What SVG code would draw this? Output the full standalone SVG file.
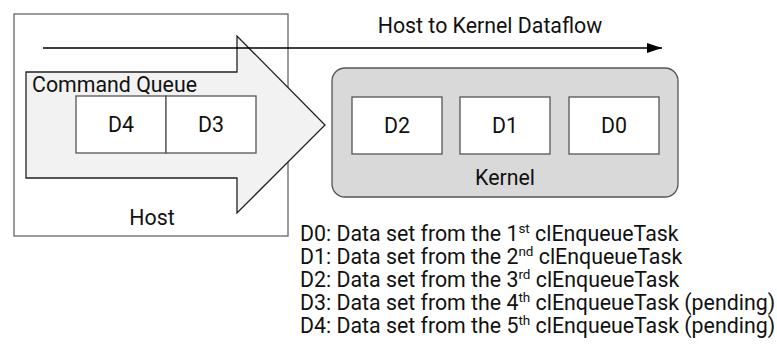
<svg xmlns="http://www.w3.org/2000/svg" width="777" height="346" viewBox="0 0 777 346">
<defs>
<style>
text{font-family:Roboto,"Liberation Sans",sans-serif;fill:#111;}
.t{font-size:21.33px;}
.c{text-anchor:middle;}
.box{fill:#fff;stroke:#555;stroke-width:1.3;}
.sup{font-size:13.5px;}
</style>
<marker id="ah" markerWidth="15" markerHeight="10" refX="15" refY="5" orient="auto" markerUnits="userSpaceOnUse">
<path d="M0,0 L15,5 L0,10 Z" fill="#000"/>
</marker>
</defs>
<g id="host">
<rect x="14" y="14" width="274" height="222" fill="#fff" stroke="#666" stroke-width="1.3"/>
<text class="t c" x="152" y="225">Host</text>
</g>
<g id="command-queue">
<path d="M26,72 H237 V36 L325,125 L237,213 V178 H26 Z" fill="#f2f2f2" stroke="#222" stroke-width="1.3"/>
<text class="t" x="32" y="92">Command Queue</text>
</g>
<g id="d4">
<rect class="box" x="76" y="96" width="90" height="57"/>
<text class="t c" x="121" y="132">D4</text>
</g>
<g id="d3">
<rect class="box" x="166" y="96" width="90" height="57"/>
<text class="t c" x="211" y="132">D3</text>
</g>
<g id="kernel">
<rect x="332" y="68" width="346" height="129" rx="13" fill="#d9d9d9" stroke="#555" stroke-width="1.3"/>
<text class="t c" x="505" y="185">Kernel</text>
</g>
<g id="d2">
<rect class="box" x="352" y="97" width="90" height="57"/>
<text class="t c" x="397" y="133">D2</text>
</g>
<g id="d1">
<rect class="box" x="460" y="97" width="90" height="57"/>
<text class="t c" x="505" y="133">D1</text>
</g>
<g id="d0">
<rect class="box" x="569" y="97" width="90" height="57"/>
<text class="t c" x="614" y="133">D0</text>
</g>
<g id="connectors">
<line x1="43" y1="48" x2="662" y2="48" stroke="#000" stroke-width="1.3" marker-end="url(#ah)"/>
<text class="t c" x="490" y="33">Host to Kernel Dataflow</text>
</g>
<g id="legend">
<text class="t" x="300" y="241">D0: Data set from the 1<tspan class="sup" dy="-8">st</tspan><tspan dy="8"> clEnqueueTask</tspan></text>
<text class="t" x="300" y="264">D1: Data set from the 2<tspan class="sup" dy="-8">nd</tspan><tspan dy="8"> clEnqueueTask</tspan></text>
<text class="t" x="300" y="287">D2: Data set from the 3<tspan class="sup" dy="-8">rd</tspan><tspan dy="8"> clEnqueueTask</tspan></text>
<text class="t" x="300" y="310">D3: Data set from the 4<tspan class="sup" dy="-8">th</tspan><tspan dy="8"> clEnqueueTask (pending)</tspan></text>
<text class="t" x="300" y="333">D4: Data set from the 5<tspan class="sup" dy="-8">th</tspan><tspan dy="8"> clEnqueueTask (pending)</tspan></text>
</g>
</svg>
